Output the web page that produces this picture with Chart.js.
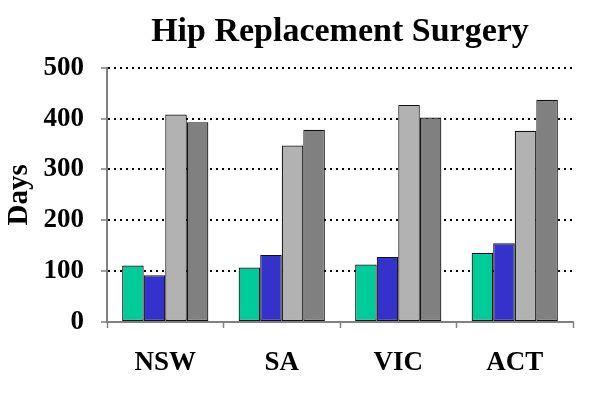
<!DOCTYPE html>
<html>
<head>
<meta charset="utf-8">
<script src="https://cdn.jsdelivr.net/npm/chart.js@4.4.1/dist/chart.umd.min.js"></script>
<style>
  html, body { margin: 0; padding: 0; background: #fff; }
  #wrap { width: 600px; height: 398px; }
</style>
</head>
<body>
<div id="wrap"><canvas id="myChart" width="600" height="398"></canvas></div>
<script>
// donnees
const regions = ['NSW', 'SA', 'VIC', 'ACT'];
const serie1 = [111, 107, 113, 136];
const serie2 = [92, 132, 128, 155];
const serie3 = [408, 347, 427, 376];
const serie4 = [393, 378, 402, 437];
const yTicks = [0, 100, 200, 300, 400, 500];

const serif = "'Liberation Serif', 'Times New Roman', serif";
const gris = '#808080';

const ctx = document.getElementById('myChart');

new Chart(ctx, {
  type: 'bar',
  data: {
    labels: regions,
    datasets: [
      { label: 'Serie 1', data: serie1, backgroundColor: '#00CC99' },
      { label: 'Serie 2', data: serie2, backgroundColor: '#3333CC' },
      { label: 'Serie 3', data: serie3, backgroundColor: '#B2B2B2' },
      { label: 'Serie 4', data: serie4, backgroundColor: '#808080' }
    ]
  },
  options: {
    responsive: false,
    animation: false,
    layout: { padding: { left: 0, right: 27, top: 0, bottom: 0 } },
    datasets: {
      bar: {
        borderColor: '#111',
        borderWidth: 1.2,
        borderSkipped: false,
        categoryPercentage: 0.74,
        barPercentage: 1
      }
    },
    plugins: {
      legend: { display: false },
      tooltip: { enabled: false },
      title: {
        display: true,
        fullSize: false,
        text: 'Hip Replacement Surgery',
        color: '#000',
        font: { family: serif, size: 34, weight: 'bold' },
        padding: { top: 12, bottom: 15 }
      }
    },
    scales: {
      x: {
        afterFit: s => { s.height = 76; },
        grid: {
          offset: true,
          drawOnChartArea: false,
          drawTicks: true,
          tickLength: 6,
          tickColor: gris,
          tickWidth: 1.5
        },
        border: { color: gris, width: 2 },
        ticks: {
          color: '#000',
          padding: 19,
          font: { family: serif, size: 27, weight: 'bold' }
        }
      },
      y: {
        min: 0,
        max: 500,
        afterFit: s => { s.width = 107; },
        afterBuildTicks: s => { s.ticks = yTicks.map(v => ({ value: v })); },
        grid: {
          color: c => (c.tick && c.tick.value === 0) ? 'rgba(0,0,0,0)' : '#000',
          lineWidth: 2,
          tickLength: 6,
          tickColor: gris,
          tickWidth: 1.5
        },
        border: { color: gris, width: 2, dash: [2, 4] },
        ticks: {
          color: '#000',
          padding: 17,
          font: { family: serif, size: 27, weight: 'bold' }
        },
        title: {
          display: true,
          text: 'Days',
          color: '#000',
          padding: { top: 2, bottom: 0 },
          font: { family: serif, size: 29, weight: 'bold' }
        }
      }
    }
  }
});
</script>
</body>
</html>
